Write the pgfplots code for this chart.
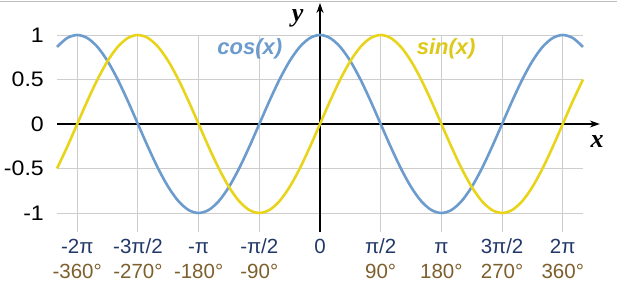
\documentclass[border=0pt]{standalone}
\usepackage{pgfplots}
\pgfplotsset{compat=1.18}
\usetikzlibrary{arrows.meta}
\usepackage{graphicx}
\usepackage{fontspec}
\setmainfont{Liberation Sans}
\newfontfamily\serifbi{Liberation Serif}
\definecolor{cosblue}{RGB}{108,155,206}
\definecolor{sinyel}{RGB}{232,212,26}
\definecolor{navy}{RGB}{34,56,105}
\definecolor{tickbrown}{RGB}{125,95,45}
\definecolor{gridgray}{RGB}{205,205,205}
\newcommand\W[1]{\scalebox{1.1}[1]{#1}}
\newcommand\TL[2]{\strut\textcolor{navy}{#1}\\\strut\textcolor{tickbrown}{#2}}
\begin{document}
\begin{tikzpicture}[x=1pt,y=1pt]
\useasboundingbox (0,0) rectangle (617,289);
\draw[line width=1pt,color={rgb,255:red,190;green,190;blue,190}] (0,287) -- (617,287);
\begin{axis}[
  at={(57pt,57pt)}, anchor=south west,
  scale only axis, width=526pt, height=197pt,
  xmin=-390, xmax=390, ymin=-1.2135, ymax=1,
  axis line style={draw=none},
  major tick length=0pt,
  grid=major,
  grid style={gridgray, line width=0.9pt},
  xtick={-360,-270,-180,-90,0,90,180,270,360},
  xticklabels={
    {\TL{-2π}{-360°}},
    {\TL{-3π/2}{-270°}},
    {\TL{-π}{-180°}},
    {\TL{-π/2}{-90°}},
    {\TL{0}{}},
    {\TL{π/2}{90°}},
    {\TL{π}{180°}},
    {\TL{3π/2}{270°}},
    {\TL{2π}{360°}}},
  xticklabel style={anchor=north, align=center, inner sep=0pt, yshift=-3.5pt,
    font=\fontsize{20.5}{25}\selectfont},
  ytick={-1,-0.5,0,0.5,1},
  yticklabels={\W{-1},\W{-0.5},\W{0},\W{0.5},\W{1}},
  yticklabel style={anchor=east, inner sep=0pt, xshift=-13pt,
    font=\fontsize{21}{24}\selectfont},
  clip=false,
]
\draw[black, line width=1.3pt, -{Stealth[length=10pt,width=7pt]}] (axis cs:-390,0) -- (axis cs:415,0);
\draw[black, line width=1.3pt, -{Stealth[length=10pt,width=7pt]}] (axis cs:0,-1.2135) -- (axis cs:0,1.36);
\addplot[color=cosblue, line width=2.6pt, smooth] coordinates {
(-390,0.8660) (-375,0.9659) (-360,1) (-345,0.9659) (-330,0.8660) (-315,0.7071)
(-300,0.5) (-285,0.2588) (-270,0) (-255,-0.2588) (-240,-0.5) (-225,-0.7071)
(-210,-0.8660) (-195,-0.9659) (-180,-1) (-165,-0.9659) (-150,-0.8660) (-135,-0.7071)
(-120,-0.5) (-105,-0.2588) (-90,0) (-75,0.2588) (-60,0.5) (-45,0.7071)
(-30,0.8660) (-15,0.9659) (0,1) (15,0.9659) (30,0.8660) (45,0.7071)
(60,0.5) (75,0.2588) (90,0) (105,-0.2588) (120,-0.5) (135,-0.7071)
(150,-0.8660) (165,-0.9659) (180,-1) (195,-0.9659) (210,-0.8660) (225,-0.7071)
(240,-0.5) (255,-0.2588) (270,0) (285,0.2588) (300,0.5) (315,0.7071)
(330,0.8660) (345,0.9659) (360,1) (375,0.9659) (390,0.8660)
};
\addplot[color=sinyel, line width=2.6pt, smooth] coordinates {
(-390,-0.5) (-375,-0.2588) (-360,0) (-345,0.2588) (-330,0.5) (-315,0.7071)
(-300,0.8660) (-285,0.9659) (-270,1) (-255,0.9659) (-240,0.8660) (-225,0.7071)
(-210,0.5) (-195,0.2588) (-180,0) (-165,-0.2588) (-150,-0.5) (-135,-0.7071)
(-120,-0.8660) (-105,-0.9659) (-90,-1) (-75,-0.9659) (-60,-0.8660) (-45,-0.7071)
(-30,-0.5) (-15,-0.2588) (0,0) (15,0.2588) (30,0.5) (45,0.7071)
(60,0.8660) (75,0.9659) (90,1) (105,0.9659) (120,0.8660) (135,0.7071)
(150,0.5) (165,0.2588) (180,0) (195,-0.2588) (210,-0.5) (225,-0.7071)
(240,-0.8660) (255,-0.9659) (270,-1) (285,-0.9659) (300,-0.8660) (315,-0.7071)
(330,-0.5) (345,-0.2588) (360,0) (375,0.2588) (390,0.5)
};
\node[cosblue, font=\fontsize{22}{24}\selectfont\bfseries\itshape] at (axis cs:-104,0.85) {cos(x)};
\node[sinyel!95!black, font=\fontsize{22}{24}\selectfont\bfseries\itshape] at (axis cs:187,0.85) {sin(x)};
\node[inner sep=0pt, font=\fontsize{26}{28}\selectfont\serifbi\bfseries\itshape] at (axis cs:-33,1.19) {y};
\node[inner sep=0pt, font=\fontsize{26}{28}\selectfont\serifbi\bfseries\itshape] at (axis cs:411,-0.2) {x};
\end{axis}
\end{tikzpicture}
\end{document}
